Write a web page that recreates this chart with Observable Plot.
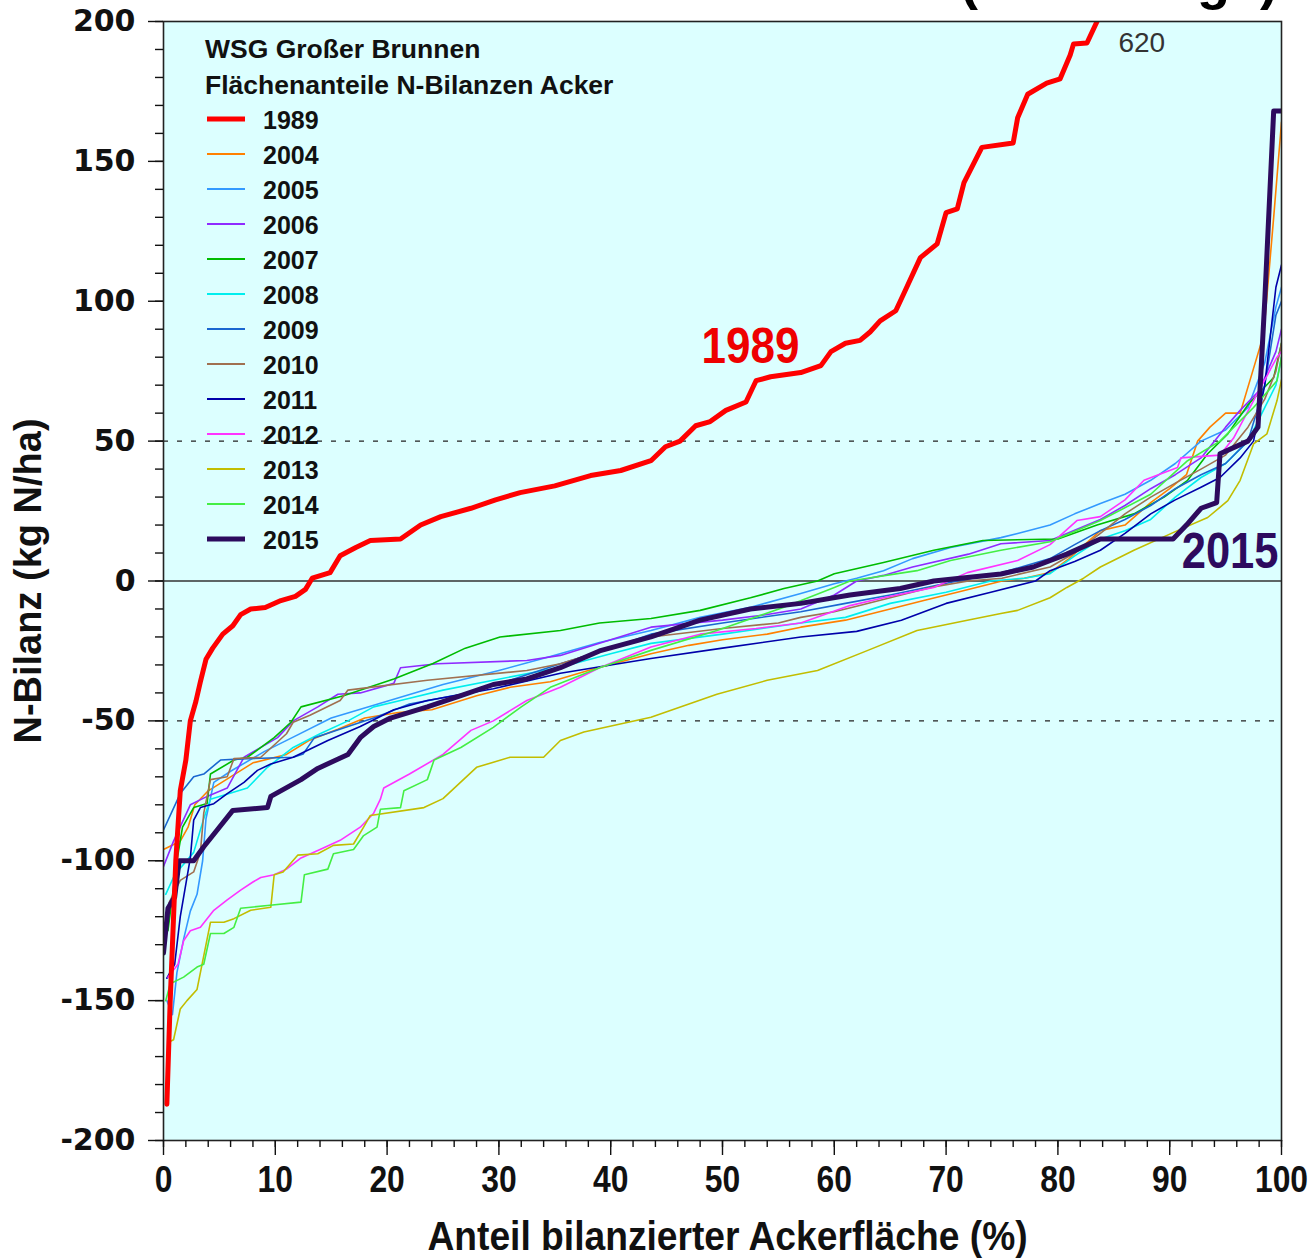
<!DOCTYPE html>
<html><head><meta charset="utf-8">
<script src="https://cdn.jsdelivr.net/npm/d3@7"></script>
<script src="https://cdn.jsdelivr.net/npm/@observablehq/plot@0.6"></script>
<style>
body{margin:0;background:#fff;overflow:hidden}
#wrap{position:relative;width:1315px;height:1259px;overflow:hidden}
#wrap > svg{position:absolute;left:0;top:0}
#cut{position:absolute;left:960px;top:-47px;font:bold 54px "Liberation Sans",Arial,sans-serif;line-height:54px;white-space:nowrap;color:#000}
</style></head><body><div id="wrap"><div id="cut">(Überhänge)</div></div>
<script>
// ---------- data ----------
const years = ["1989","2004","2005","2006","2007","2008","2009","2010","2011","2012","2013","2014","2015"];
const colors = ["#ff0000","#ff8000","#3399ff","#8f2bff","#00bb00","#00eeee","#1a66d0","#a07050","#0000aa","#ff33ff","#c2bd00","#44ee44","#2d0b5e"];

const s1989 = [[0.3,-187],[0.6,-150],[1.1,-100],[1.5,-75],[2.0,-64],[2.4,-50],[2.9,-43],[3.3,-36],[3.8,-28],[4.4,-24],[5.3,-19],[6.2,-16],[6.9,-12],[7.8,-10],[9.1,-9.5],[10.5,-7],[11.8,-5.5],[12.7,-3],[13.3,1],[14.9,3],[15.8,9],[17.2,12],[18.5,14.5],[21.2,15],[23,20],[24.8,23],[27.5,26],[29.7,29],[31.9,31.6],[35,34],[38.2,37.7],[40.9,39.5],[43.6,43],[44.9,48],[46.2,50],[47.6,55.5],[48.9,57],[50.3,61],[52.1,64],[53,71.6],[54.3,73],[57,74.5],[58.8,77],[59.7,82],[61,85],[62.3,86],[63.2,89],[64.1,93],[65.5,96.6],[66.2,102.6],[67.7,115.6],[69.2,120.5],[70,131.7],[71,133],[71.6,142.4],[73.2,155],[76,156.6],[76.4,165.6],[77.3,174],[79,178],[80.2,179.5],[81.1,188],[81.4,192],[82.6,192.3],[83.5,200],[86,230],[100,620]];
const s2004 = [[0,-96],[1.5,-93],[2.2,-88],[2.8,-80],[4,-75],[6,-70],[8,-65],[11,-62],[13,-57],[15.6,-53],[18,-49],[21,-47],[24,-46],[28,-41],[31,-38],[34.6,-36],[38,-32],[43.6,-26],[47,-23],[50,-21],[54,-19],[57,-16.5],[61,-14],[65,-10],[68,-7],[71,-4],[75,0],[77,1],[79.3,3],[81,8],[83.8,18],[86,20],[88.3,28],[90,33],[91.5,38],[92.5,50],[93.6,55],[95,60],[96.3,60],[97.5,76],[98.4,88],[99.3,130],[100,164]];
const s2005 = [[0.3,-150],[0.8,-155],[1.2,-140],[1.8,-128],[2.4,-118],[3,-112],[3.5,-100],[3.8,-85],[4.5,-72],[6,-68],[9,-61],[12,-55],[15,-49],[20,-43],[25,-37],[30,-32],[34.6,-27],[39,-22],[43.6,-17.7],[48,-13],[52.5,-9.4],[57,-4.5],[60,-1],[62,1],[64.4,3.7],[67,8],[70.4,12],[74.9,15.5],[76.4,17],[79.3,20],[81.5,24],[83.8,27.7],[86,31],[88.3,36],[90.5,42],[92.8,50],[95,54],[97,62],[98.5,78],[99.5,98],[100,105]];
const s2006 = [[0,-102],[0.9,-93],[2.4,-80],[3.9,-77],[5.7,-74],[7.2,-63],[10.2,-56],[11.6,-50],[13.8,-45],[15.6,-40.5],[17.6,-40],[20.6,-36.6],[21.2,-31],[24.5,-29.6],[32.5,-28.4],[35.5,-26.6],[40,-21],[43.6,-16.5],[50,-14],[54,-12],[57,-10],[60,-5],[62,0],[64.4,2],[67,5],[72,9.6],[74.9,13.3],[79.3,14.5],[83.8,22],[86,27],[88.3,33],[90.5,38],[92.8,44],[95,55],[96.3,61],[98,68],[99.5,82],[100,90]];
const s2007 = [[0.4,-125],[1.2,-100],[1.7,-88],[2.7,-81],[3.9,-79.5],[4.2,-69],[6.3,-64],[7.5,-63],[9.9,-56],[11.4,-50.5],[12.3,-45],[16.1,-41],[20.6,-35],[24.1,-29.5],[27,-24],[30.1,-20],[35.5,-17.7],[39,-15],[43.6,-13.4],[48,-10.5],[52.5,-6],[55.5,-2.7],[58.5,0],[60,2.6],[64.4,6.6],[68.9,11],[73.3,14.5],[80,15],[83.5,20],[86.8,24],[89.5,30],[91.6,36],[93.4,45.5],[95.2,52.6],[97,63],[99.3,72.7],[100,85]];
const s2008 = [[0.2,-112],[1,-105],[2.7,-97],[3.6,-85],[4.2,-78],[7.5,-74],[9.3,-66.6],[11.6,-59.5],[14,-54.6],[16.5,-50],[18.8,-45],[21.2,-42.7],[25,-39],[29.5,-35.5],[35.5,-30.8],[40,-26],[43.6,-22.3],[50,-19],[57,-15],[61,-13],[65,-8],[70,-4],[74,0],[77,1],[79.3,2.6],[81.5,9],[83.8,15],[86,18],[88.3,22],[90.5,30],[92.8,37],[95,42],[97,50],[98.5,62],[99.5,70],[100,80]];
const s2009 = [[0,-89],[1.5,-76],[2.7,-70],[3.6,-69],[5.1,-64],[7.5,-63.5],[11.6,-63],[12.5,-61.8],[13.5,-56],[16.5,-52],[19,-48.7],[22,-44],[26.6,-40.5],[31,-35.5],[35.5,-29.6],[40,-24],[43.6,-19],[50,-15],[57,-11],[61,-8],[65,-5],[71,0],[75,3],[79.3,8],[81.5,13],[83.8,18],[86,22],[88.3,27],[90.5,33],[92.8,38],[95,42],[97,50],[98.5,70],[99.5,95],[100,100]];
const s2010 = [[0.5,-115],[1.5,-107],[2.7,-104],[3.3,-97],[3.6,-83],[4.2,-71],[5.7,-70],[6.3,-63.5],[8.7,-63],[11,-54.6],[11.6,-50.5],[13.1,-48],[15.8,-42.7],[16.5,-39],[23.6,-35.5],[32.5,-32],[35.5,-29.6],[40,-24],[43.6,-20],[50,-17],[55,-15],[57,-13],[60,-11],[62,-9],[65,-6],[69,-2],[72,0],[75,1],[79.3,5],[81.5,10],[83.8,17],[86,24],[88.3,30],[90.5,35],[92.8,40],[95,45],[97,55],[98.5,65],[99.5,75],[100,85]];
const s2011 = [[0.3,-142],[1,-137],[1.5,-120],[2.4,-99],[2.7,-85.5],[3.3,-81],[4.5,-79.6],[5.7,-76],[7.2,-72],[8.4,-67.7],[9.6,-65.4],[11.6,-63],[14.7,-57],[17.6,-52],[20.6,-46],[23.6,-42.7],[29.5,-38.5],[35.5,-33],[40,-30],[43.6,-27.7],[50,-24],[57,-20],[62,-18],[66,-14],[70,-8],[74,-4],[78,0],[79.3,3.7],[81.5,7],[83.8,11],[86,17],[88.3,24],[90.5,29],[92.8,33.5],[94.5,37],[96.3,44],[97.5,50],[98.5,70],[99.5,105],[100,113]];
const s2012 = [[0.4,-141.6],[1.3,-137],[1.8,-128.6],[2.4,-125],[3.3,-123.8],[4.5,-117.7],[5.7,-114],[6.9,-110.5],[8,-107.6],[8.7,-106],[9.9,-105],[11,-103],[12.3,-99],[14,-96],[15.8,-92.7],[17.6,-88],[18.8,-83],[19.4,-78],[19.7,-74],[22,-69],[25,-62],[27.5,-53.4],[29.5,-50],[32.5,-42.7],[35.5,-38],[39,-31],[43.6,-23.6],[48,-19],[53,-17],[57,-15],[61.4,-8.8],[64.4,-6],[68.9,-2.3],[71.9,3],[76.4,7.3],[79.3,13],[81.7,21.6],[83.8,23],[86,29],[87.7,36],[90.7,40.6],[91,44],[94.5,45],[95.7,51],[97.5,64.5],[99.6,80],[100,82]];
const s2013 = [[0.4,-165],[0.9,-164],[1.5,-153],[2.1,-150],[3,-146],[4.2,-122],[5.4,-122],[6.3,-120.7],[7.8,-117.7],[9.6,-116.6],[9.9,-105],[10.7,-104],[12,-98],[13.8,-97.5],[15.2,-94.5],[17,-94],[17.9,-88],[18.5,-83.8],[23.3,-81],[25,-77.8],[28,-66.6],[31,-63],[34,-63],[35.5,-57],[37.6,-54],[43.6,-48.7],[49.5,-40.5],[54,-35.5],[58.5,-32],[63,-24.8],[67.4,-17.7],[71.9,-14],[74.9,-11.6],[76.4,-10.5],[79.3,-6],[80.8,-2.3],[82.3,1],[83.8,5],[86.8,11],[90.7,18],[93.4,22.7],[95.2,28.7],[96.3,36],[97.5,49],[98.7,52.6],[99.6,64.5],[100,72]];
const s2014 = [[0.2,-150],[0.6,-144],[1.8,-141.6],[3,-138],[3.6,-137],[4.2,-126],[5.4,-126],[6.3,-123.8],[6.9,-117],[9.3,-116],[12.3,-114.8],[12.6,-105],[14.7,-103],[15.2,-97.5],[17,-96],[17.9,-91],[19.1,-88],[19.4,-81.6],[21.2,-81],[21.5,-75],[23.6,-71],[24.2,-64],[26.6,-59.5],[29.5,-52.3],[32,-45],[34.6,-38],[39,-31],[43.6,-24.8],[49.5,-17.7],[55.5,-9.4],[60,-2.3],[61.4,0],[67.4,3.7],[70.4,7.3],[74.9,11],[79.3,14],[83.8,21.6],[88.3,31],[91.6,43],[94.5,50],[97.5,62],[99.6,71.6],[100,80]];
const s2015 = [[0,-133],[0.4,-117],[1,-113],[1.4,-100],[2.7,-100],[3.6,-95],[4.8,-89],[6.2,-82],[9.3,-81],[9.6,-77],[12.3,-71],[13.8,-67],[16.5,-62],[17.6,-56],[18.8,-52],[20.3,-49],[23.6,-45],[26.6,-41],[29.5,-37],[32.5,-35],[35.5,-31],[39,-25],[43.6,-20],[48,-14],[52.5,-10],[57,-8],[61.4,-5],[65.9,-2.7],[68.9,0],[74.9,2.5],[77.8,5],[80.8,9.6],[83.8,15],[86.5,15],[90.3,15],[91.5,20],[92.8,26],[94.2,28],[94.5,45.5],[97,50],[97.9,55],[98.5,100],[99.3,168],[100,168]];

const seriesList = [s1989,s2004,s2005,s2006,s2007,s2008,s2009,s2010,s2011,s2012,s2013,s2014,s2015];

const legendTitle = ["WSG Großer Brunnen","Flächenanteile N-Bilanzen Acker"];
const annoText = ["1989","2015"];
const annoX = [52.5, 95.4];
const annoY = [83.5, 10.2];
const annoColor = ["#ee0000","#2d0b5e"];
const offText = ["620"];
const offX = [87.5];
const offY = [192.3];
const yTicks = [-200,-150,-100,-50,0,50,100,150,200];
const xTicks = [0,10,20,30,40,50,60,70,80,90,100];
const yTitle = "N-Bilanz (kg N/ha)";
const xTitle = "Anteil bilanzierter Ackerfläche (%)";

// ---------- build ----------
const table = years.map((yr, i) => seriesList[i].map(([x, y]) => ({year: yr, x, y})));
const annos = annoText.map((t, i) => ({t, x: annoX[i], y: annoY[i], c: annoColor[i]}));
const offs = offText.map((t, i) => ({t, x: offX[i], y: offY[i]}));

const boldFont = "'Liberation Sans',Arial,sans-serif";
const thick = new Set(["1989","2015"]);
const order = [1,2,3,4,5,6,7,8,9,10,11,12,0]; // 1989 drawn last

const lineMarks = order.map(i => Plot.line(table[i], {
  x: "x", y: "y", stroke: colors[i],
  strokeWidth: thick.has(years[i]) ? 5 : 1.6,
  strokeLinejoin: "round", clip: true
}));

const chart = Plot.plot({
  width: 1315, height: 1259,
  marginLeft: 163, marginRight: 34, marginTop: 21, marginBottom: 119,
  x: {domain: [0, 100]},
  y: {domain: [-200, 200]},
  style: {background: "white", color: "#111"},
  marks: [
    Plot.frame({fill: "#dcffff", stroke: null}),
    Plot.ruleY([0], {stroke: "#333", strokeWidth: 1.6}),
    Plot.ruleY([-50, 50], {stroke: "#222", strokeWidth: 1.4, strokeDasharray: "5,9"}),
    ...lineMarks,
    Plot.text(annos, {x: "x", y: "y", text: "t", fill: d => d.c, fontSize: 50, fontWeight: "bold", fontFamily: boldFont}),
    Plot.text(offs, {x: "x", y: "y", text: "t", fill: "#333", fontSize: 28, fontFamily: boldFont}),
    Plot.frame({stroke: "#222", strokeWidth: 1.6}),
    Plot.axisY({ticks: d3.range(-200, 201, 10), tickSize: 8, tickFormat: () => "", label: null, strokeWidth: 1.4}),
    Plot.axisY({ticks: yTicks, tickSize: 15, tickPadding: 13, tickFormat: d => String(d), label: null,
      fontSize: 30, fontWeight: "bold", fontFamily: "'DejaVu Sans',sans-serif", strokeWidth: 1.4}),
    Plot.axisX({ticks: d3.range(0, 101, 2), tickSize: 7, tickFormat: () => "", label: null, strokeWidth: 1.4}),
    Plot.axisX({ticks: xTicks, tickSize: 15, tickPadding: 10, tickFormat: d => String(d), label: null,
      fontSize: 37, fontWeight: "bold", fontFamily: boldFont, strokeWidth: 1.4}),
    Plot.text([yTitle], {frameAnchor: "left", dx: -135, rotate: -90, textAnchor: "middle", fontSize: 38, fontWeight: "bold", fontFamily: boldFont, fill: "#111"}),
    Plot.text([xTitle], {frameAnchor: "bottom", dx: 5, dy: 109, textAnchor: "middle", fontSize: 40, fontWeight: "bold", fontFamily: boldFont, fill: "#111"})
  ]
});
const wrap = document.getElementById("wrap");
wrap.insertBefore(chart, wrap.firstChild);

// condense the bold narrow-looking texts (no narrow font installed)
const condense = {"1989": 0.88, "2015": 0.87, [xTitle]: 0.93, [yTitle]: 1.0};
d3.select(chart).selectAll("text").each(function() {
  const t = this.textContent;
  let f = null;
  if (this.closest('g[aria-label="x-axis tick label"]') && t !== "") f = 0.86;
  else if (t in condense && this.closest('g[aria-label="text"]')) f = condense[t];
  if (f && f !== 1) {
    const w = this.getComputedTextLength();
    this.setAttribute("textLength", w * f);
    this.setAttribute("lengthAdjust", "spacingAndGlyphs");
  }
});

// ---------- legend (inside the plot area, top-left) ----------
const leg = d3.select(wrap).append("svg")
  .attr("width", 700).attr("height", 580)
  .style("position", "absolute").style("left", "0px").style("top", "0px");
legendTitle.forEach((t, i) => {
  leg.append("text").attr("x", 205).attr("y", 49 + i * 36).attr("dominant-baseline", "central")
    .attr("font-family", boldFont).attr("font-weight", "bold").attr("font-size", 26.5).attr("fill", "#111").text(t);
});
years.forEach((yr, i) => {
  const y = 119 + i * 35;
  leg.append("line").attr("x1", 207).attr("x2", 245).attr("y1", y).attr("y2", y)
    .attr("stroke", colors[i]).attr("stroke-width", thick.has(yr) ? 5 : 1.8);
  leg.append("text").attr("x", 263).attr("y", y + 1).attr("dominant-baseline", "central")
    .attr("font-family", boldFont).attr("font-weight", "bold").attr("font-size", 25).attr("fill", "#111").text(yr);
});
</script></body></html>
